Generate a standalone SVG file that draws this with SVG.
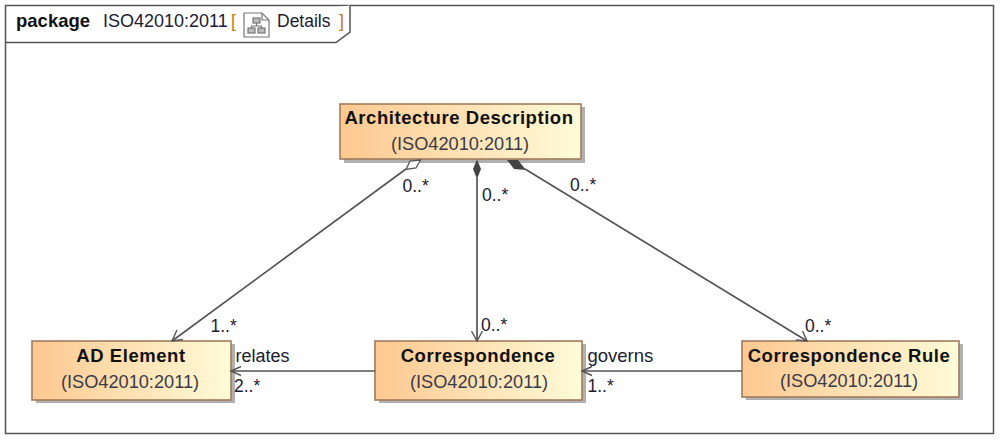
<svg xmlns="http://www.w3.org/2000/svg" width="1000" height="444" viewBox="0 0 1000 444">
<style>
text{font-family:"Liberation Sans",Arial,sans-serif;font-size:18px;fill:#1c2030}
.t{font-weight:bold;font-size:18.5px;letter-spacing:.55px;text-anchor:middle;fill:#111}
.s{text-anchor:middle;font-size:18.2px;fill:#3a3a4a}
.m{font-size:17.500px}
.box{fill:url(#g);stroke:#a07c5c;stroke-width:1.6}
.sh{fill:#b0b0b0}
.c{fill:none;stroke:#555;stroke-width:1.7}
.a{fill:none;stroke:#555;stroke-width:1.4}
</style>
<defs>
<linearGradient id="g"><stop offset="0" stop-color="#fdc890"/><stop offset="1" stop-color="#fffbd8"/></linearGradient>
</defs>
<rect width="1000" height="444" fill="#fff"/>
<g id="frame">
<rect x="5.5" y="5.5" width="988" height="428" fill="none" stroke="#555" stroke-width="1.5"/>
<path d="M5.5 42.5H336L350 32V5.5" fill="#fff" stroke="#555" stroke-width="1.5"/>
<text x="16" y="27" font-weight="bold" style="fill:#111;font-size:18.500px">package</text>
<text x="103" y="27">ISO42010:2011</text>
<text x="231" y="27" style="fill:#c87a20">[</text>
<g fill="none" stroke="#777" stroke-width="1.2"><path d="M244 13H262L269 20V37H244Z"/><path d="M262 13V20H269"/><rect x="253" y="18" width="7" height="5" fill="#bbb"/><rect x="248" y="28" width="7" height="5" fill="#bbb"/><rect x="258" y="28" width="7" height="5" fill="#bbb"/><path d="M256.500 23V26H251.500V28M256.500 26H261.500V28"/></g>
<text x="277" y="27" class="m">Details</text>
<text x="339" y="27" style="fill:#c87a20">]</text>
</g>
<g id="arch">
<rect class="sh" x="344" y="107" width="241" height="56"/>
<rect class="box" x="340" y="104" width="241" height="55"/>
<text class="t" x="459" y="124">Architecture Description</text>
<text class="s" x="460" y="150">(ISO42010:2011)</text>
</g>
<g id="ad-element">
<rect class="sh" x="36" y="344" width="199" height="59"/>
<rect class="box" x="32" y="341" width="199" height="59"/>
<text class="t" x="131" y="362">AD Element</text>
<text class="s" x="130" y="387.500">(ISO42010:2011)</text>
</g>
<g id="correspondence">
<rect class="sh" x="379" y="344" width="207" height="59"/>
<rect class="box" x="375" y="341" width="207" height="59"/>
<text class="t" x="478" y="362">Correspondence</text>
<text class="s" x="479" y="387.500">(ISO42010:2011)</text>
</g>
<g id="correspondence-rule">
<rect class="sh" x="746" y="344" width="217" height="56"/>
<rect class="box" x="742" y="341" width="217" height="56"/>
<text class="t" x="849" y="362">Correspondence Rule</text>
<text class="s" x="849" y="387">(ISO42010:2011)</text>
</g>
<g id="connectors">
<path class="c" d="M172 341L406 169"/>
<path class="c" d="M477 341V178"/>
<path class="c" d="M807 341L525 169"/>
<path class="c" d="M375 371H231"/>
<path class="c" d="M742 371H582"/>
<path d="M420.500 160L410 161L406 169.500L416 168Z" fill="#fff" stroke="#555" stroke-width="1.300"/>
<path d="M477 159.500L481 169L477 179L473 169Z" fill="#444"/>
<path d="M507 160L518 160L526 170L514 169Z" fill="#444"/>
<path class="a" d="M183 339.500L172 341L177 330"/>
<path class="a" d="M471.500 331L477 341L482.500 331"/>
<path class="a" d="M796 340L807 341L802.500 331"/>
<path class="a" d="M241 366.500L231 371L241 375.500"/>
<path class="a" d="M592 366.500L582 371L592 375.500"/>
</g>
<g id="labels">
<text class="m" x="402.500" y="192">0..*</text>
<text class="m" x="482" y="201">0..*</text>
<text class="m" x="570" y="191">0..*</text>
<text class="m" x="210.500" y="332">1..*</text>
<text class="m" x="481" y="331">0..*</text>
<text class="m" x="805" y="332">0..*</text>
<text x="235.500" y="362">relates</text>
<text class="m" x="234" y="392">2..*</text>
<text x="587.500" y="362" style="font-size:18.500px">governs</text>
<text class="m" x="587.500" y="392">1..*</text>
</g>
</svg>
